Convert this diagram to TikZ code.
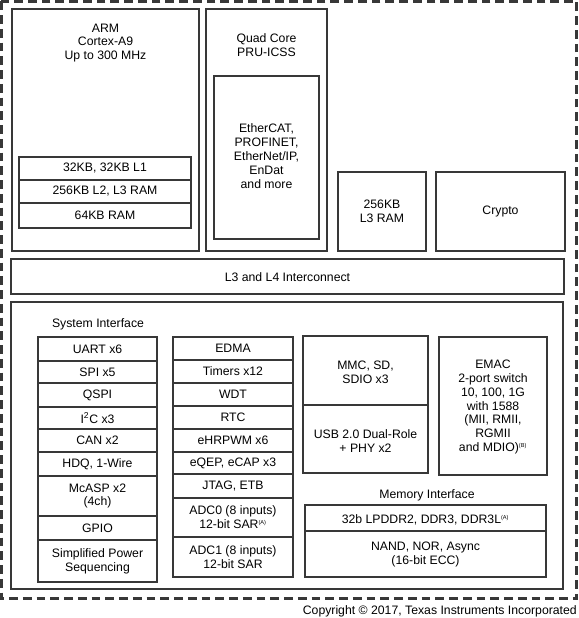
\documentclass[tikz,border=0pt]{standalone}
\usepackage{fontspec}
\setmainfont{Liberation Sans}

\tikzset{
	blk/.style={draw=black!78, line width=1.3pt},
	lbl/.style={align=center, inner sep=0pt, font=\fontsize{9.8}{11.1}\selectfont},
}
\newcommand{\fnmark}[1]{\textsuperscript{\fontsize{4.5}{5}\selectfont(#1)}}

\begin{document}
\begin{tikzpicture}[x=0.8pt, y=-0.8pt]
	\useasboundingbox (0,0) rectangle (578,618);

	\draw[blk, line width=2pt, dash pattern=on 7pt off 4pt] (1.3,1.3) rectangle (576.7,598.5);

	% processor
	\draw[blk] (12,9) rectangle (199,251);
	\node[lbl] (arm) at (105.5,43) {ARM\\Cortex-A9\\Up to 300 MHz};
	\draw[blk] (19,157) rectangle (191,180);
	\node[lbl] (cache) at (105,168.5) {32KB, 32KB L1};
	\draw[blk] (19,180) rectangle (191,203);
	\node[lbl] (l2ram) at (105,191.5) {256KB L2, L3 RAM};
	\draw[blk] (19,203) rectangle (191,228);
	\node[lbl] (ram) at (105,215.5) {64KB RAM};

	% PRU
	\draw[blk] (206,9) rectangle (327,251);
	\node[lbl] (pru) at (266.5,45.5) {Quad Core\\PRU-ICSS};
	\draw[blk] (214,76) rectangle (319,239);
	\node[lbl] (proto) at (266.5,156) {EtherCAT,\\PROFINET,\\EtherNet/IP,\\EnDat\\and more};

	\draw[blk] (338,172) rectangle (426,251);
	\node[lbl] (l3ram) at (382,211.5) {256KB\\L3 RAM};
	\draw[blk] (436,172) rectangle (565,251);
	\node[lbl] (crypto) at (500.5,211.5) {Crypto};

	\draw[blk] (11,259) rectangle (564,294);
	\node[lbl] (bus) at (287.5,277) {L3 and L4 Interconnect};

	% peripherals
	\draw[blk] (11,302) rectangle (563,589);
	\node[lbl] (sysif) at (98,324) {System Interface};

	\foreach \ya/\yb/\txt [count=\i] in {337/361/{UART x6}, 361/383/{SPI x5},
		383/407/{QSPI}, 407/429/{I\textsuperscript{2}C x3}, 429/452/{CAN x2},
		452/476/{HDQ, 1-Wire}, 476/516/{McASP x2\\(4ch)}, 516/540/{GPIO},
		540/582/{Simplified Power\\Sequencing}} {
		\draw[blk] (38,\ya) rectangle (157,\yb);
		\node[lbl] (left\i) at (97.5,{(\ya+\yb)/2}) {\txt};
	}

	\foreach \ya/\yb/\txt [count=\i] in {337/360/{EDMA}, 360/383/{Timers x12},
		383/406/{WDT}, 406/429/{RTC}, 429/452/{eHRPWM x6},
		452/474/{eQEP, eCAP x3}, 474/498/{JTAG, ETB},
		498/537/{ADC0 (8 inputs)\\12-bit SAR\fnmark{A}},
		537/577/{ADC1 (8 inputs)\\12-bit SAR}} {
		\draw[blk] (173,\ya) rectangle (293,\yb);
		\node[lbl] (mid\i) at (233,{(\ya+\yb)/2}) {\txt};
	}

	\draw[blk] (303,336) rectangle (428,405);
	\node[lbl] (mmc) at (365.5,372) {MMC, SD,\\SDIO x3};
	\draw[blk] (303,405) rectangle (428,473);
	\node[lbl] (usb) at (365.5,441) {USB 2.0 Dual-Role\\+ PHY x2};

	\draw[blk] (439,337) rectangle (547,475);
	\node[lbl] (emac) at (493,407) {EMAC\\2-port switch\\10, 100, 1G\\with 1588\\(MII, RMII,\\RGMII\\and MDIO)\fnmark{B}};

	\node[lbl] (memif) at (427,495) {Memory Interface};
	\draw[blk] (305,505) rectangle (546,531);
	\node[lbl] (ddr) at (425.5,520) {32b LPDDR2, DDR3, DDR3L\fnmark{A}};
	\draw[blk] (305,531) rectangle (546,577);
	\node[lbl] (nand) at (425.5,554.5) {NAND, NOR, Async\\(16-bit ECC)};

	\node[lbl, anchor=east] (copy) at (577,611) {Copyright \textcopyright{} 2017, Texas Instruments Incorporated};
\end{tikzpicture}
\end{document}
